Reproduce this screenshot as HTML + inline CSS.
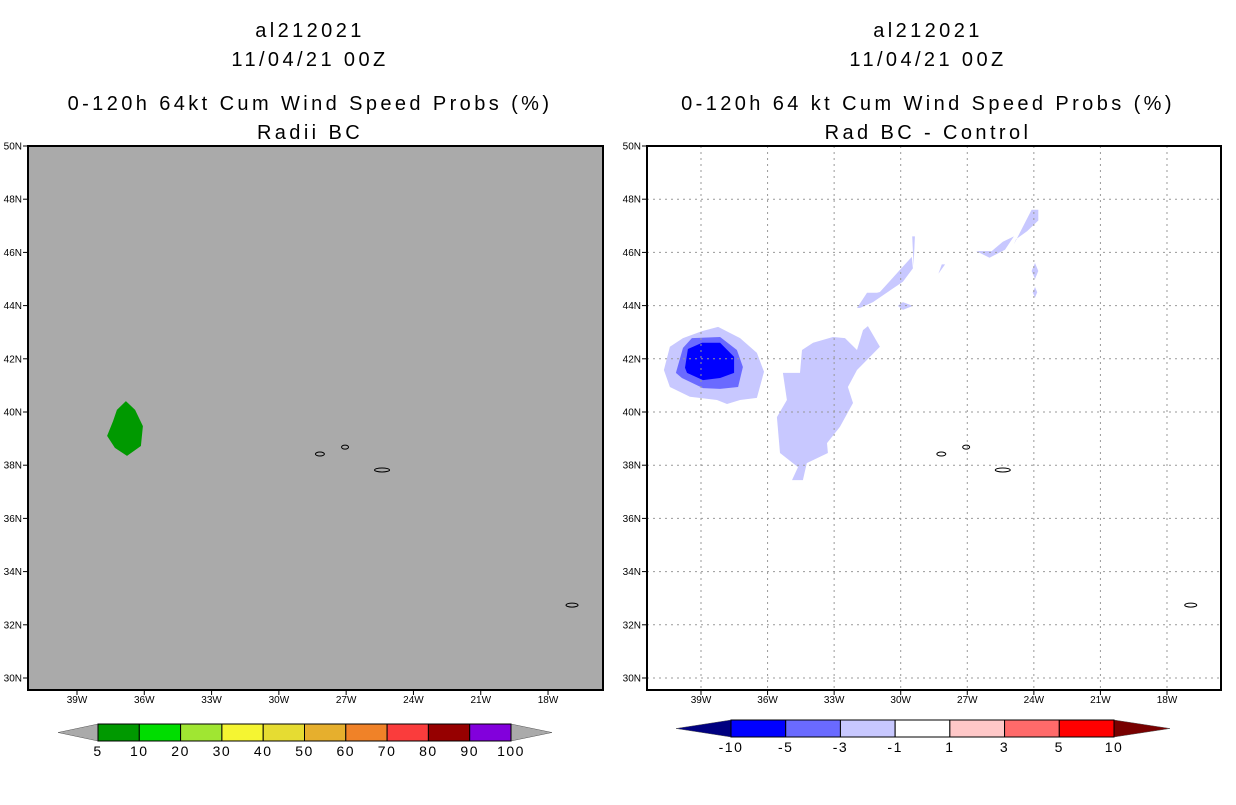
<!DOCTYPE html>
<html><head><meta charset="utf-8"><style>
body{margin:0;background:#fff;width:1236px;height:800px;overflow:hidden}
svg text{font-family:"Liberation Sans",sans-serif;fill:#000}
.tt text{letter-spacing:3.4px}
</style></head><body>
<svg id="s" width="1236" height="800" xmlns="http://www.w3.org/2000/svg">
<g class="tt" font-size="20" text-anchor="middle">
<text x="310" y="37">al212021</text><text x="310" y="66">11/04/21 00Z</text>
<text x="310" y="110">0-120h 64kt Cum Wind Speed Probs (%)</text><text x="310" y="139">Radii BC</text></g>
<g class="tt" font-size="20" text-anchor="middle">
<text x="928" y="37">al212021</text><text x="928" y="66">11/04/21 00Z</text>
<text x="928" y="110">0-120h 64 kt Cum Wind Speed Probs (%)</text><text x="928" y="139">Rad BC - Control</text></g>
<rect x="28" y="146" width="575" height="544" fill="#aaaaaa"/>
<rect x="647" y="146" width="574" height="544" fill="#fff"/>
<g id="L"></g>
<g id="R"></g>
<rect x="28" y="146" width="575" height="544" fill="none" stroke="#000" stroke-width="2"/>
<rect x="647" y="146" width="574" height="544" fill="none" stroke="#000" stroke-width="2"/>
<g id="CB"></g>
</svg>
<script>
const lonTicks=[39,36,33,30,27,24,21,18];
const latTicks=[30,32,34,36,38,40,42,44,46,48,50];
const leftLevels=['5','10','20','30','40','50','60','70','80','90','100'];
const leftColors=['#009900','#00dd00','#a0e632','#f5f532','#e6dc32','#e6af2d','#f08228','#fa3c3c','#960000','#8200dc'];
const rightLevels=['-10','-5','-3','-1','1','3','5','10'];
const rightColors=['#0000ff','#6a6aff','#c8c8ff','#ffffff','#ffc8c8','#ff6a6a','#ff0000'];
const greenLon=[36.82,36.41,36.06,36.15,36.77,37.31,37.66,37.39,37.22];
const greenLat=[40.41,40.08,39.47,38.72,38.35,38.65,39.10,39.66,40.08];
const diffShapes=[
{c:'#c8c8ff',lon:[40.67,40.40,39.81,38.95,38.23,37.24,36.48,36.16,36.48,37.24,37.83,38.28,39.50,40.40],lat:[41.58,42.45,42.78,43.04,43.20,42.78,42.22,41.51,40.53,40.45,40.30,40.45,40.57,40.94]},
{c:'#6a6aff',lon:[40.13,39.81,39.41,38.14,37.38,37.11,37.33,38.14,38.91,39.86],lat:[41.47,42.41,42.78,42.82,42.33,41.69,40.94,40.87,40.90,41.28]},
{c:'#0000ff',lon:[39.72,39.59,38.95,38.14,37.51,37.51,38.14,38.91,39.63],lat:[41.66,42.37,42.60,42.60,42.07,41.47,41.28,41.20,41.47]},
{c:'#c8c8ff',lon:[35.31,34.54,34.45,33.95,33.05,32.51,31.97,31.70,31.48,30.94,31.97,32.38,32.15,32.74,33.32,33.28,34.23,34.41,34.90,34.63,35.44,35.58,35.13],lat:[41.47,41.47,42.33,42.60,42.82,42.78,42.33,43.08,43.23,42.45,41.58,40.94,40.34,39.44,38.83,38.46,38.08,37.44,37.44,37.93,38.46,39.81,40.45]},
{c:'#c8c8ff',lon:[31.97,31.52,31.07,30.94,30.04,29.50,29.45,29.9,30.58,31.25,31.84],lat:[43.91,44.48,44.48,44.51,45.34,45.83,45.4,44.9,44.51,44.13,43.91]},
{c:'#c8c8ff',lon:[30.13,29.90,29.45,29.90],lat:[43.99,44.13,43.99,43.84]},
{c:'#c8c8ff',lon:[29.42,29.36,29.48],lat:[45.5,46.6,46.6]},
{c:'#c8c8ff',lon:[28.3,28.0,28.15],lat:[45.2,45.55,45.55]},
{c:'#c8c8ff',lon:[26.6,25.9,25.4,24.9,25.3,26.0],lat:[46.05,46.05,46.4,46.6,46.1,45.8]},
{c:'#c8c8ff',lon:[24.9,24.1,23.8,23.8,24.3,24.8],lat:[46.3,47.6,47.6,47.2,46.8,46.5]},
{c:'#c8c8ff',lon:[23.95,23.8,23.95,24.1],lat:[45.0,45.3,45.6,45.3]},
{c:'#c8c8ff',lon:[23.95,23.85,23.95,24.05],lat:[44.3,44.5,44.7,44.5]}
];
const islandLon=[28.17,27.05,25.40,16.93];
const islandLat=[38.42,38.68,37.82,32.74];
const islandRx=[4.5,3.5,7.5,6];
const NS='http://www.w3.org/2000/svg';
function mk(t,a,p){const e=document.createElementNS(NS,t);for(const k in a)e.setAttribute(k,a[k]);p.appendChild(e);return e;}
function proj(x0,xs){return {x:w=>x0+(39-w)*xs,y:l=>678-(l-30)*26.6};}
const PL=proj(77,22.43),PR=proj(701,22.19);
const L=document.getElementById('L'),R=document.getElementById('R'),CB=document.getElementById('CB');
function pts(p,lo,la){return lo.map((w,i)=>p.x(w).toFixed(1)+','+p.y(la[i]).toFixed(1)).join(' ');}
let g=mk('polygon',{points:pts(PL,greenLon,greenLat),fill:'#009900'},L);


diffShapes.forEach(s=>{const e=mk('polygon',{points:pts(PR,s.lon,s.lat),fill:s.c},R);

});
lonTicks.forEach(w=>{const e=mk('line',{x1:PR.x(w),x2:PR.x(w),y1:146,y2:690,stroke:'#999','stroke-dasharray':'2,4'},R);

});
latTicks.forEach(l=>{const e=mk('line',{x1:647,x2:1221,y1:PR.y(l),y2:PR.y(l),stroke:'#999','stroke-dasharray':'2,4'},R);

});
[[PL,L],[PR,R]].forEach(([p,G])=>{islandLon.forEach((w,i)=>{const e=mk('ellipse',{cx:p.x(w),cy:p.y(islandLat[i]),rx:islandRx[i],ry:2,fill:'none',stroke:'#000','stroke-width':1},G);

});});
[[PL,L,28,603],[PR,R,647,1221]].forEach(([p,G,x0,x1])=>{
lonTicks.forEach(w=>{const x=p.x(w);mk('line',{x1:x,x2:x,y1:690,y2:695,stroke:'#000'},G);
const t=mk('text',{x:x,y:703,'font-size':10,'text-anchor':'middle'},G);t.textContent=w+'W';

});
latTicks.forEach(l=>{const y=p.y(l);mk('line',{x1:x0-5,x2:x0,y1:y,y2:y,stroke:'#000'},G);
const t=mk('text',{x:x0-6,y:y+3.5,'font-size':10,'text-anchor':'end'},G);t.textContent=l+'N';

});});
function bar(x0,x1,bx0,bx1,y0,y1,cols,labs,name){
const ym=(y0+y1)/2,n=cols.length,w=(bx1-bx0)/n;
const tl=mk('polygon',{points:`${x0},${ym} ${bx0},${y0} ${bx0},${y1}`,fill:'#aaa',stroke:'#555','stroke-width':0.5},CB);


const tr=mk('polygon',{points:`${x1},${ym} ${bx1},${y0} ${bx1},${y1}`,fill:name==='right-colorbar'?'#780000':'#aaa',stroke:'#555','stroke-width':0.5},CB);


if(name==='right-colorbar')tl.setAttribute('fill','#000080');
cols.forEach((c,i)=>{const r=mk('rect',{x:bx0+i*w,y:y0,width:w,height:y1-y0,fill:c,stroke:'#000','stroke-width':1},CB);

});
labs.forEach((s,i)=>{const t=mk('text',{x:bx0+i*w,y:y1+15,'font-size':14,'text-anchor':'middle','letter-spacing':'1.5'},CB);t.textContent=s;

});}
bar(58,552,98,511,724,741,leftColors,leftLevels,'left-colorbar');
bar(676,1170,731,1114,720,737,rightColors,rightLevels,'right-colorbar');
</script>
</body></html>
